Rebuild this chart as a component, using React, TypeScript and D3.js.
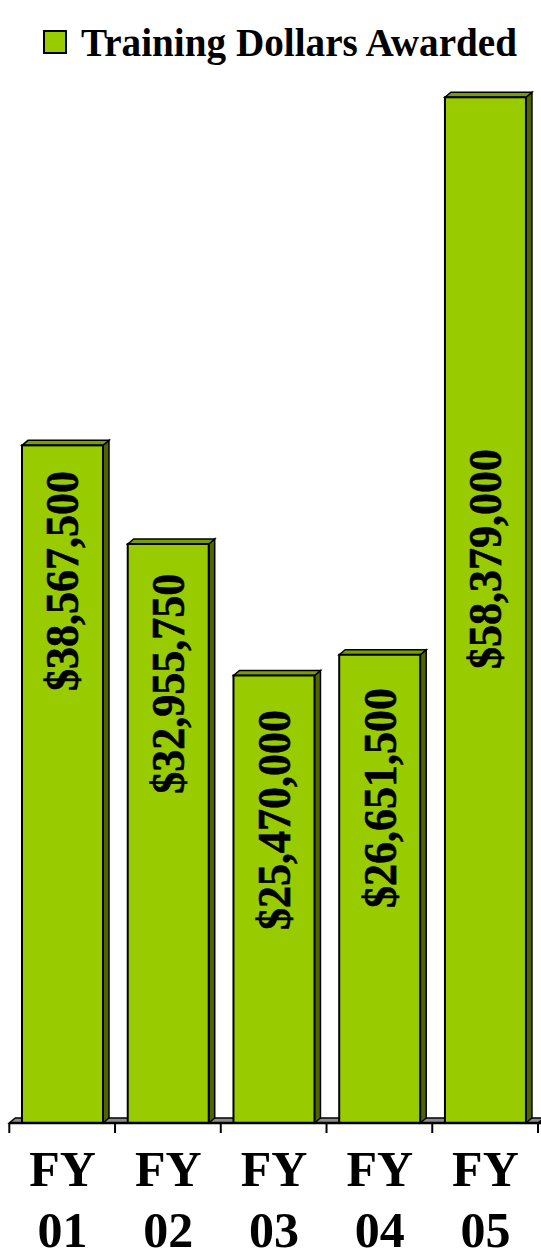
import React from "react";
import * as d3 from "d3";

const categories = ["FY 01", "FY 02", "FY 03", "FY 04", "FY 05"];
const values = [38567500, 32955750, 25470000, 26651500, 58379000];
const valueLabels = ["$38,567,500", "$32,955,750", "$25,470,000", "$26,651,500", "$58,379,000"];
// label centre along the bar, in data units
const labelCenters = [30.85e6, 25.0e6, 17.25e6, 18.5e6, 32.1e6];
const seriesName = "Training Dollars Awarded";

const W = 541;
const H = 1259;
const FONT = "'Liberation Serif', 'Times New Roman', serif";
const FRONT = "#99CC00";
const TOP = "#7A9E00";
const SIDE = "#4D6600";
const DX = 6;
const DY = 5;

export default function App() {
  const x = d3.scaleBand<string>().domain(categories).range([9.3, 538]).paddingInner(0).paddingOuter(0);
  const y = d3.scaleLinear().domain([0, 60e6]).range([1123, 1123 - 60 * 17.57]);
  const bw = x.bandwidth();
  const off = bw * 0.12;
  const fw = bw * 0.766;
  const base = y(0);
  const [x0, x1] = x.range();

  return (
    <svg width={W} height={H} style={{ position: "absolute", left: 0, top: 0, background: "#fff" }}>
      {/* legend */}
      <rect x={44} y={31} width={22} height={22} fill={FRONT} stroke="#000" strokeWidth={2} />
      <text x={81} y={56} fontFamily={FONT} fontWeight="bold" fontSize={39} textLength={436} lengthAdjust="spacingAndGlyphs">
        {seriesName}
      </text>

      {/* floor */}
      <polygon
        points={`${x0},${base} ${x1},${base} ${x1 + DX},${base - DY} ${x0 + DX},${base - DY}`}
        fill="#8c8c8c"
        stroke="#000"
        strokeWidth={1.5}
      />

      {/* bars */}
      {values.map((v, i) => {
        const bx = (x(categories[i]) as number) + off;
        const top = y(v);
        return (
          <g key={i} stroke="#000" strokeWidth={2} strokeLinejoin="miter">
            <polygon
              points={`${bx + fw},${top} ${bx + fw + DX},${top - DY} ${bx + fw + DX},${base - DY} ${bx + fw},${base}`}
              fill={SIDE}
              strokeWidth={1.5}
            />
            <polygon
              points={`${bx},${top} ${bx + DX},${top - DY} ${bx + fw + DX},${top - DY} ${bx + fw},${top}`}
              fill={TOP}
              strokeWidth={1.5}
            />
            <rect x={bx} y={top} width={fw} height={base - top} fill={FRONT} />
          </g>
        );
      })}

      {/* axis line and ticks */}
      <line x1={x0} x2={x1 + 4} y1={base} y2={base} stroke="#000" strokeWidth={2.5} />
      {d3.range(categories.length + 1).map((i) => {
        const tx = x0 + i * bw;
        return <line key={i} x1={tx} x2={tx} y1={base} y2={base + 10} stroke="#000" strokeWidth={2} />;
      })}

      {/* value labels */}
      {values.map((v, i) => {
        const cx = (x(categories[i]) as number) + off + fw / 2 + 16;
        const cy = y(labelCenters[i]);
        return (
          <text
            key={i}
            transform={`translate(${cx},${cy}) rotate(-90)`}
            textAnchor="middle"
            fontFamily={FONT}
            fontWeight="bold"
            fontSize={46}
            textLength={220}
            lengthAdjust="spacingAndGlyphs"
            stroke="#000"
            strokeWidth={0.6}
          >
            {valueLabels[i]}
          </text>
        );
      })}

      {/* category labels */}
      {categories.map((c, i) => {
        const cx = (x(c) as number) + off + fw / 2;
        const parts = c.split(" ");
        return (
          <text key={c} textAnchor="middle" fontFamily={FONT} fontWeight="bold" fontSize={50}>
            <tspan x={cx} y={1186}>{parts[0]}</tspan>
            <tspan x={cx} y={1247}>{parts[1]}</tspan>
          </text>
        );
      })}
    </svg>
  );
}
